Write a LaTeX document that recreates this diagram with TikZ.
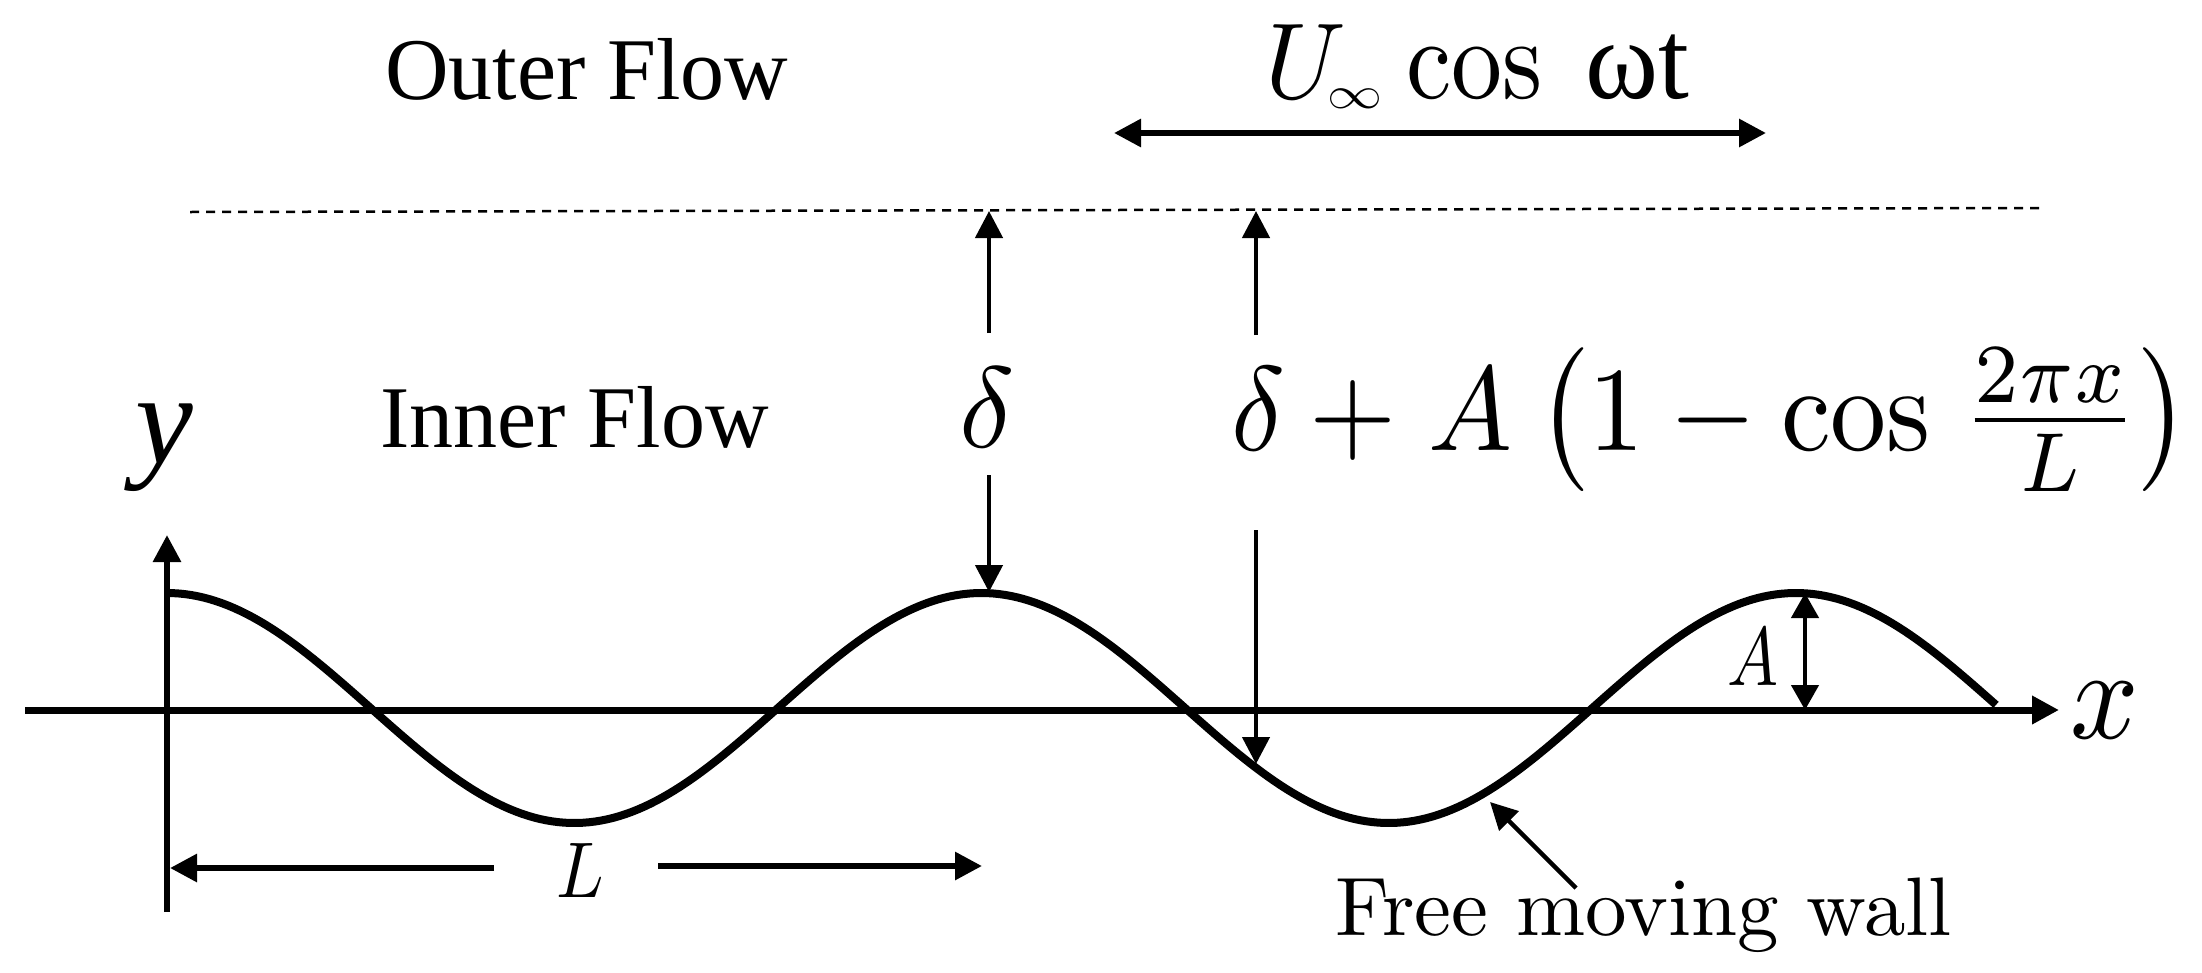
\documentclass[tikz,border=0pt]{standalone}
\usepackage[no-math]{fontspec}
\usetikzlibrary{arrows.meta}
\newfontfamily\libserif{Liberation Serif}
\tikzset{
  txt/.style={inner sep=0pt,outer sep=0pt,anchor=base west},
  txtc/.style={inner sep=0pt,outer sep=0pt,anchor=base},
  thinarrow/.style={line width=4.5pt,-{Triangle[length=27pt,width=27pt]}},
  thickarrow/.style={line width=7pt,-{Triangle[length=27pt,width=27pt]}},
  dimarrow/.style={line width=6pt,-{Triangle[length=27pt,width=27pt]}},
  bothwayarrow/.style={line width=6pt,{Triangle[length=27pt,width=27pt]}-{Triangle[length=27pt,width=27pt]}},
  amparrow/.style={line width=4.5pt,{Triangle[length=25pt,width=27pt]}-{Triangle[length=25pt,width=27pt]}},
  axisarrow/.style={line width=6pt,-{Triangle[length=27pt,width=27pt]}},
  wavecurve/.style={line width=8pt},
  dashline/.style={line width=2.5pt,dash pattern=on 9pt off 7pt},
}
\begin{document}
\begin{tikzpicture}[x=1pt,y=-1pt]
\useasboundingbox (0,0) rectangle (2202,972);
% coordinates
\coordinate (xs) at (25,710);   \coordinate (xe) at (2059,710);
\coordinate (ys) at (167,912);  \coordinate (ye) at (167,535);
\coordinate (ds) at (190,212);  \coordinate (de) at (2045,208);
\coordinate (ul) at (1114,133); \coordinate (ur) at (1766,133);
\coordinate (d1a) at (989,333); \coordinate (d1b) at (989,211);
\coordinate (d1c) at (989,475); \coordinate (d1d) at (989,592);
\coordinate (d2a) at (1256,335); \coordinate (d2b) at (1256,211);
\coordinate (d2c) at (1256,530); \coordinate (d2d) at (1256,764);
\coordinate (Aa) at (1805,593); \coordinate (Ab) at (1805,710);
\coordinate (wa) at (1576,888); \coordinate (wb) at (1490,802);
\coordinate (La) at (494,868);  \coordinate (Lb) at (170,868);
\coordinate (Lc) at (658,866);  \coordinate (Ld) at (982,866);
% axes and wall
\draw[axisarrow] (ys) -- (ye);
\draw[thickarrow] (xs) -- (xe);
\draw[wavecurve] plot[domain=0:1829,samples=300] ({167+\x},{708-115*cos(0.442*\x)});
\draw[dashline] (ds) -- (de);
% arrows
\draw[bothwayarrow] (ul) -- (ur);
\draw[thinarrow] (d1a) -- (d1b);
\draw[thinarrow] (d1c) -- (d1d);
\draw[thinarrow] (d2a) -- (d2b);
\draw[thinarrow] (d2c) -- (d2d);
\draw[amparrow] (Aa) -- (Ab);
\draw[thinarrow] (wa) -- (wb);
\draw[dimarrow] (La) -- (Lb);
\draw[dimarrow] (Lc) -- (Ld);
% labels
\node[txt,scale=8.8] (outer) at (385,99) {\libserif Outer Flow};
\node[txt,scale=8.8] (inner) at (380,447) {\libserif Inner Flow};
\node[txt,xscale=10.2,yscale=10.8] (ulab) at (1265,98) {$U$};
\node[txt,xscale=5.5,yscale=4.5] (inflab) at (1327,108) {$\infty$};
\node[txt,xscale=10.2,yscale=11.5] (coslab) at (1406,98) {$\cos$};
\node[txt,xscale=11.1,yscale=11.3] (wt) at (1585,98) {\libserif ωt};
\node[txt,scale=13] (ylab) at (135,463) {\libserif\itshape y};
\node[txt,xscale=11.5,yscale=11.5] (delta) at (959,447) {$\delta$};
\node[txt,xscale=11.2,yscale=12] (form) at (1231,450) {$\delta+\mkern1.1mu A\mkern3.9mu\bigl(1-\cos\mkern1.8mu\frac{2\pi x}{L}\bigr)$};
\node[txtc,xscale=7,yscale=7.9] (Llab) at (580,897) {$L$};
\node[txtc,xscale=6.8,yscale=8.3] (Alab) at (1753,685) {$A$};
\node[txtc,xscale=12,yscale=13] (xlab) at (2105,738) {$x$};
\node[txt,xscale=8.3,yscale=8.3] (wall) at (1335,935) {Free moving wall};
\end{tikzpicture}
\end{document}
